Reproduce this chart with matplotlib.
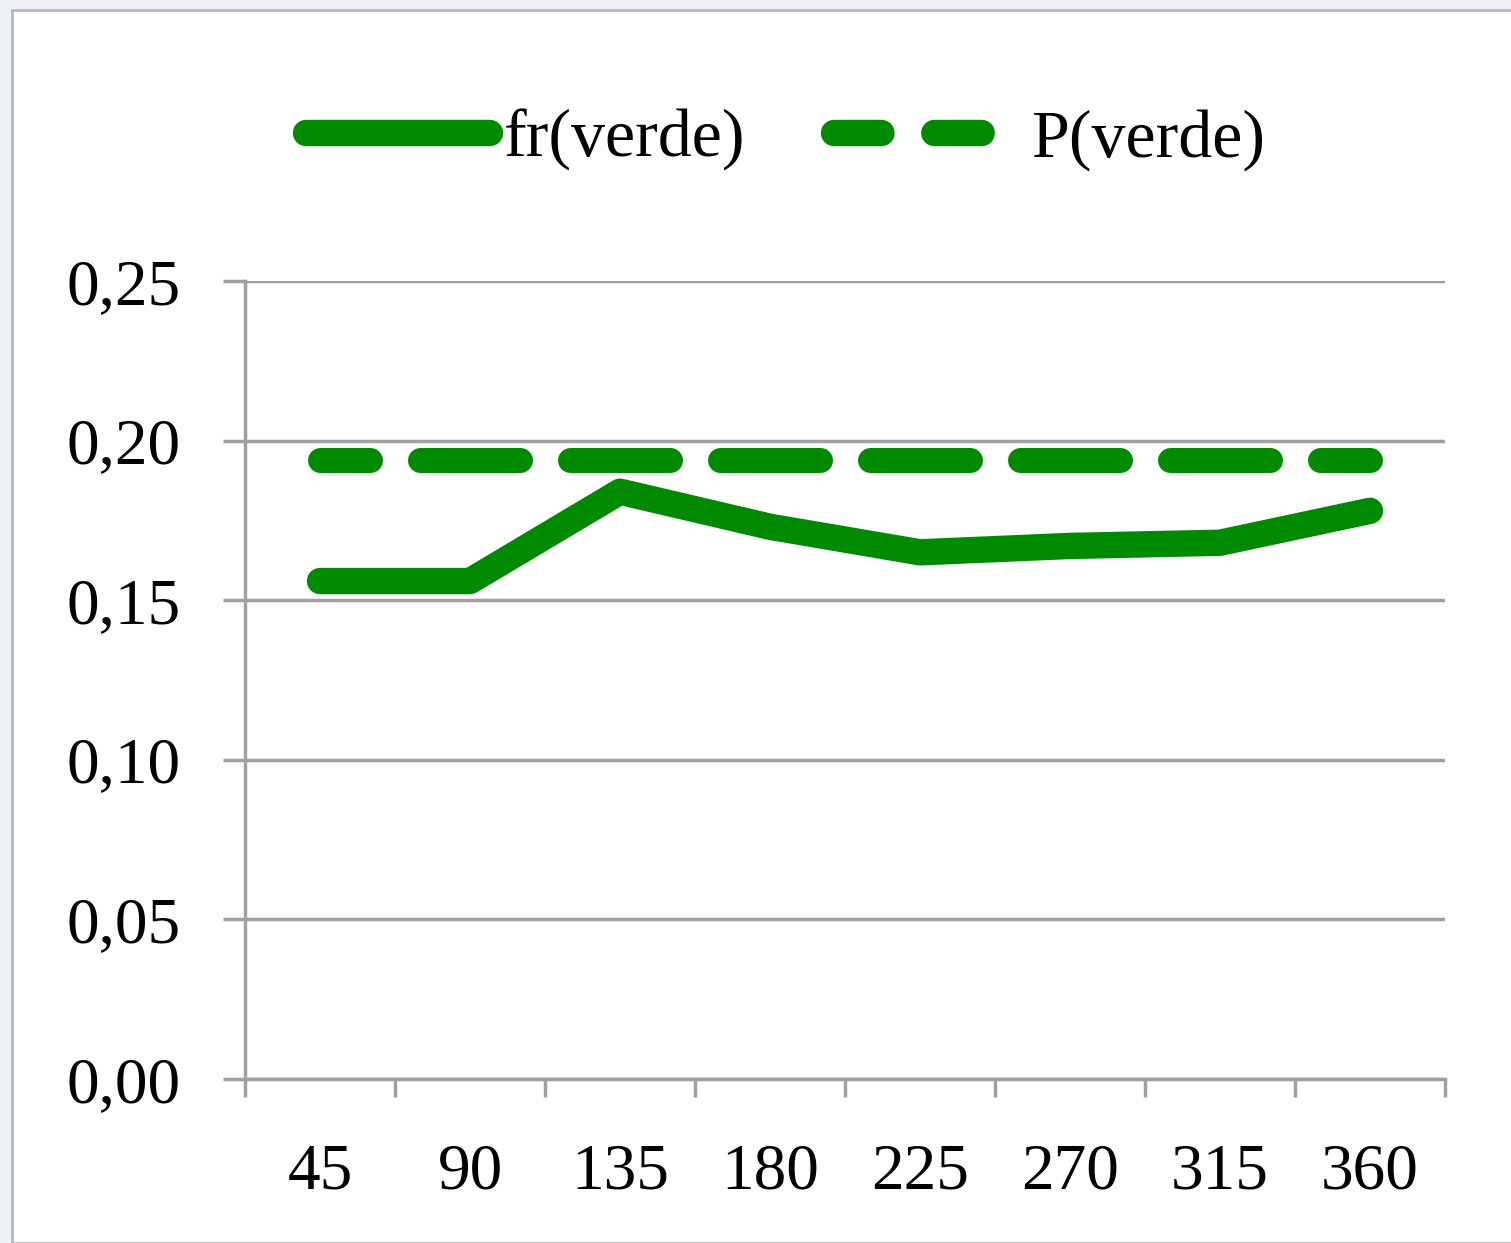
import numpy as np
import matplotlib
matplotlib.use("Agg")
from matplotlib import pyplot as plt
from matplotlib.lines import Line2D
from matplotlib.patches import Rectangle

categorias = ['45', '90', '135', '180', '225', '270', '315', '360']
fr_verde = [0.156, 0.156, 0.184, 0.173, 0.165, 0.167, 0.168, 0.178]
p_verde = [0.194, 0.194, 0.194, 0.194, 0.194, 0.194, 0.194, 0.194]
y_ticks = [0.00, 0.05, 0.10, 0.15, 0.20, 0.25]

verde = '#008a00'
cinza = '#a0a0a0'

plt.rcParams['font.family'] = ['Liberation Serif', 'DejaVu Serif']

fig = plt.figure(figsize=(15.11, 12.43), dpi=100, facecolor='#edf0f4')
# white chart area with thin border, like the spreadsheet frame
fig.patches.append(Rectangle((12/1511, 0), 1, 1 - 10/1243, transform=fig.transFigure,
                             facecolor='white', edgecolor='#b8b8b8', linewidth=2,
                             zorder=-5))

ax = fig.add_axes([245/1511, 1 - 1079/1243, 1200/1511, 798/1243])
ax.set_facecolor('none')

x = np.arange(len(categorias))
ax.plot(x, fr_verde, color=verde, linewidth=19, solid_capstyle='round',
        solid_joinstyle='round', label='fr(verde)')
ax.plot(x, p_verde, color=verde, linewidth=18, dash_capstyle='round',
        linestyle=(2.0, (4, 2)), label='P(verde)')

ax.set_xlim(-0.5, len(categorias) - 0.5)
ax.set_ylim(0, 0.25)
ax.set_yticks(y_ticks)
ax.set_yticklabels([f'{v:.2f}'.replace('.', ',') for v in y_ticks])
ax.set_xticks(np.arange(len(categorias) + 1) - 0.5)
ax.set_xticklabels([])
ax.set_xticks(x, minor=True)
ax.set_xticklabels(categorias, minor=True)

ax.grid(axis='y', color=cinza, linewidth=2.5)
ax.set_axisbelow(True)
for s in ['top', 'right']:
    ax.spines[s].set_visible(False)
for s in ['left', 'bottom']:
    ax.spines[s].set_color(cinza)
    ax.spines[s].set_linewidth(2.5)

ax.tick_params(axis='y', length=16, width=2.5, color=cinza, pad=30, labelsize=47)
ax.tick_params(axis='x', which='major', length=13, width=2.5, color=cinza)
ax.tick_params(axis='x', which='minor', length=0, pad=46, labelsize=47)

h_solid = Line2D([], [], color=verde, linewidth=19, solid_capstyle='round')
h_dash = Line2D([], [], color=verde, linewidth=19, dash_capstyle='round',
                linestyle=(0, (1.8, 2.0)))
fig.legend([h_solid, h_dash], ['fr(verde)', 'P(verde)'], loc='center',
           bbox_to_anchor=(0.52, 1 - 140/1243), ncol=2, frameon=False,
           fontsize=49, handlelength=2.7, handletextpad=0.2, columnspacing=1.3)

fig.savefig('out.png', dpi=100, facecolor=fig.get_facecolor())
